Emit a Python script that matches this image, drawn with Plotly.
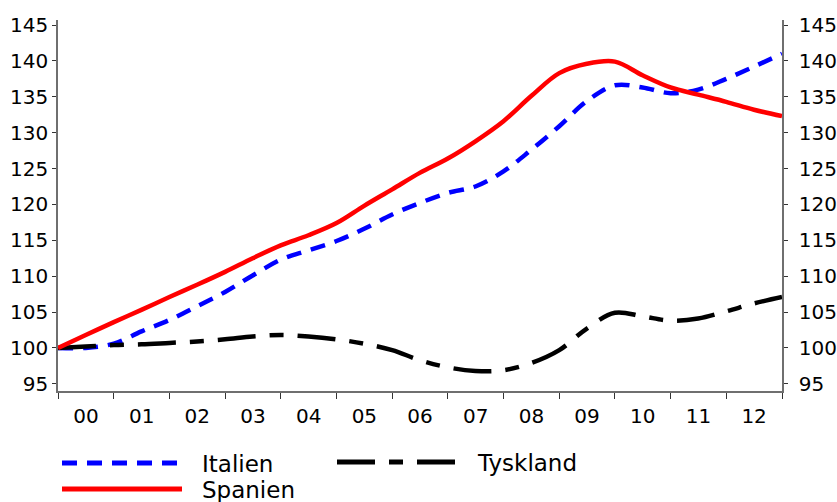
import plotly.graph_objects as go

dates = ["2000-01-01", "2000-07-01", "2001-01-01", "2001-07-01", "2002-01-01", "2002-07-01",
         "2003-01-01", "2003-07-01", "2004-01-01", "2004-07-01", "2005-01-01", "2005-07-01",
         "2006-01-01", "2006-07-01", "2007-01-01", "2007-07-01", "2008-01-01", "2008-07-01",
         "2009-01-01", "2009-07-01", "2010-01-01", "2010-07-01", "2011-01-01", "2011-07-01",
         "2012-01-01", "2012-07-01", "2013-01-01"]

spanien = [100.0, 101.8, 103.6, 105.3, 107.1, 108.8, 110.6, 112.5, 114.3, 115.7, 117.4, 119.8,
           122.1, 124.4, 126.4, 128.8, 131.6, 135.1, 138.3, 139.6, 139.9, 138.0, 136.3, 135.3,
           134.3, 133.2, 132.3]
italien = [100.0, 100.0, 100.6, 102.3, 103.9, 105.8, 107.8, 110.1, 112.3, 113.6, 114.9, 116.6,
           118.6, 120.2, 121.6, 122.5, 124.6, 127.6, 130.9, 134.4, 136.6, 136.3, 135.5, 136.0,
           137.5, 139.2, 141.0]
tyskland = [100.0, 100.2, 100.4, 100.5, 100.7, 100.9, 101.2, 101.6, 101.8, 101.6, 101.2, 100.6,
            99.7, 98.3, 97.3, 96.8, 96.9, 97.9, 99.7, 102.7, 104.9, 104.4, 103.8, 104.1,
            105.1, 106.2, 107.1]

y_ticks = [95, 100, 105, 110, 115, 120, 125, 130, 135, 140, 145]
series_names = ["Italien", "Tyskland", "Spanien"]

BLUE = "#0000FF"
RED = "#FF0000"
BLACK = "#000000"
AX = "#6f6f6f"
FONT = "DejaVu Sans"

fig = go.Figure()
fig.add_trace(go.Scatter(x=dates, y=italien, name=series_names[0], mode="lines",
                         line=dict(color=BLUE, width=4.5, dash="15px,10px", shape="spline")))
fig.add_trace(go.Scatter(x=dates, y=tyskland, name=series_names[1], mode="lines",
                         line=dict(color=BLACK, width=4.5, dash="38px,14px,14px,14px", shape="spline")))
fig.add_trace(go.Scatter(x=dates, y=spanien, name=series_names[2], mode="lines",
                         line=dict(color=RED, width=4.5, shape="spline")))

yrange = [94, 145.7]
fig.update_layout(
    width=837, height=502,
    margin=dict(l=58, r=55, t=20, b=111, autoexpand=False),
    plot_bgcolor="white", paper_bgcolor="white",
    showlegend=False,
    font=dict(family=FONT, size=20, color="black"),
    xaxis=dict(type="date", range=["2000-01-01", "2013-01-01"], dtick="M12",
               tick0="2000-01-01", tickformat="%y", ticklabelmode="period",
               ticks="outside", ticklen=6, tickcolor="#333333", tickwidth=1.3,
               showline=True, linecolor=AX, linewidth=1.5, showgrid=False,
               zeroline=False, tickfont=dict(size=20)),
    yaxis=dict(range=yrange, tickvals=y_ticks, ticks="outside", ticklen=4,
               tickcolor="#333333", tickwidth=1.3, showline=True, linecolor=AX, linewidth=1.5,
               showgrid=False, zeroline=False, tickfont=dict(size=20)),
    yaxis2=dict(range=yrange, tickvals=y_ticks, overlaying="y", side="right", anchor="x",
                ticks="outside", ticklen=4, tickcolor="#333333", tickwidth=1.3, showline=True,
                linecolor=AX, linewidth=1.5, showgrid=False, zeroline=False,
                ticklabelstandoff=7, tickfont=dict(size=20)),
)

fig.add_trace(go.Scatter(x=[dates[0]], y=[100], yaxis="y2", mode="markers",
                         marker=dict(opacity=0), showlegend=False, hoverinfo="skip"))

def px_x(px):
    return (px - 58) / 724.0

def px_y(py):
    return (391 - py) / 371.0

legend_items = [
    (series_names[0], BLUE, "15px,10px", 62, 182, 463, 200),
    (series_names[1], BLACK, "38px,14px,14px,14px", 337, 457, 462, 475),
    (series_names[2], RED, "solid", 62, 182, 489, 200),
]
for name, col, dash, x0, x1, yy, tx in legend_items:
    fig.add_shape(type="line", xref="paper", yref="paper",
                  x0=px_x(x0), x1=px_x(x1), y0=px_y(yy), y1=px_y(yy),
                  line=dict(color=col, width=5, dash=dash))
    fig.add_annotation(xref="paper", yref="paper", x=px_x(tx), y=px_y(yy + 1),
                       text=name, showarrow=False, xanchor="left", yanchor="middle",
                       font=dict(family=FONT, size=23, color="black"))

fig.write_html("out.html", config={"displayModeBar": False},
               post_script="document.body.style.margin='0';document.body.style.overflow='hidden';")
